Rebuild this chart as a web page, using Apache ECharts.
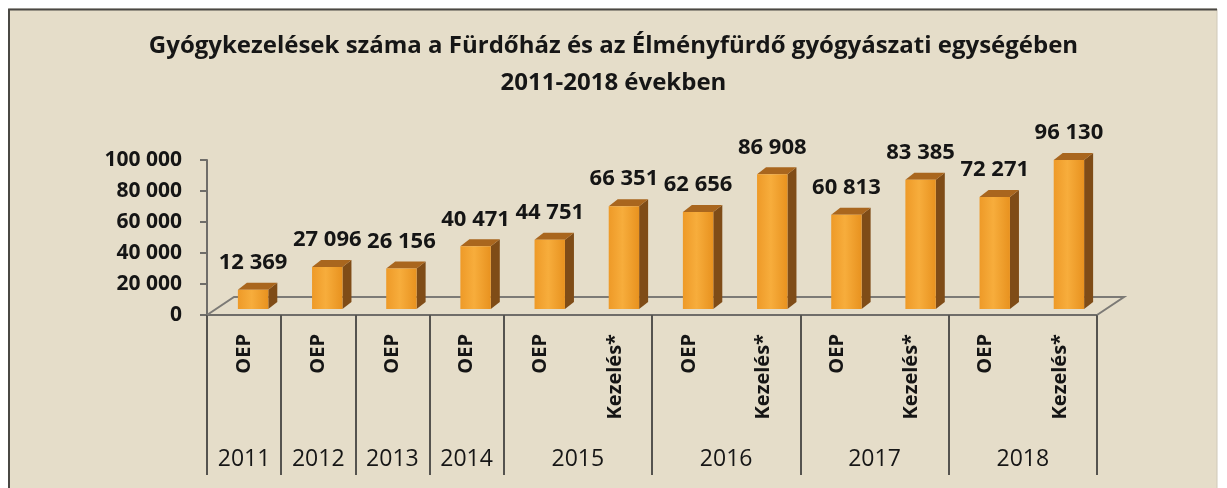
<!DOCTYPE html>
<html>
<head>
<meta charset="utf-8">
<script src="https://cdn.jsdelivr.net/npm/echarts@6/dist/echarts.min.js"></script>
<style>
  html, body { margin: 0; padding: 0; background: #ffffff; }
  #chart { width: 1227px; height: 488px; }
</style>
</head>
<body>
<div id="chart"></div>
<script>
// Treatments per year: OEP (health fund) and other treatments (Kezelés*)
const years = ['2011', '2012', '2013', '2014', '2015', '2016', '2017', '2018'];
const groupSizes = [1, 1, 1, 1, 2, 2, 2, 2];
const categories = ['OEP', 'OEP', 'OEP', 'OEP', 'OEP', 'Kezelés*', 'OEP', 'Kezelés*', 'OEP', 'Kezelés*', 'OEP', 'Kezelés*'];
const values = [12369, 27096, 26156, 40471, 44751, 66351, 62656, 86908, 60813, 83385, 72271, 96130];
const yMin = 0;
const yMax = 100000;
const yStep = 20000;

const titleLines = [
  'Gyógykezelések száma a Fürdőház és az Élményfürdő gyógyászati egységében',
  '2011-2018 években'
];

// group boundaries and centres on the year axis (0 .. number of categories)
const boundaries = [0];
const centres = [];
groupSizes.forEach(function (n) {
  const start = boundaries[boundaries.length - 1];
  centres.push(start + n / 2);
  boundaries.push(start + n);
});

const fmt = function (v) {
  return String(v).replace(/\B(?=(\d{3})+(?!\d))/g, ' ');
};

const FONT = '"Open Sans", "Liberation Sans", sans-serif';
// oblique projection used for the 3D look
const FLOOR_DEPTH = [27, -18];
const BAR_SHIFT = [9, -6];
const BAR_DEPTH = [9, -7];
const BAR_WIDTH = 0.41;

const chart = echarts.init(document.getElementById('chart'), null, { renderer: 'canvas' });

function renderFloor(params, api) {
  const cs = params.coordSys;
  const x0 = cs.x, x1 = cs.x + cs.width, y0 = cs.y + cs.height;
  const dx = FLOOR_DEPTH[0], dy = FLOOR_DEPTH[1];
  return {
    type: 'polyline',
    silent: true,
    shape: { points: [[x0, y0], [x0 + dx, y0 + dy], [x1 + dx, y0 + dy], [x1, y0]] },
    style: { stroke: '#7c7a76', lineWidth: 2, fill: null }
  };
}

function renderBar(params, api) {
  const idx = api.value(0);
  const val = api.value(1);
  const base = api.coord([idx, 0]);
  const top = api.coord([idx, val]);
  const band = api.size([1, 0])[0];
  const w = band * BAR_WIDTH;
  const cx = base[0] + BAR_SHIFT[0];
  const xl = cx - w / 2, xr = cx + w / 2;
  const yb = base[1] + BAR_SHIFT[1];
  const yt = top[1] + BAR_SHIFT[1];
  const ddx = BAR_DEPTH[0], ddy = BAR_DEPTH[1];
  return {
    type: 'group',
    children: [
      {
        type: 'polygon',
        shape: { points: [[xr, yb], [xr + ddx, yb + ddy], [xr + ddx, yt + ddy], [xr, yt]] },
        style: { fill: '#7f4c17' }
      },
      {
        type: 'polygon',
        shape: { points: [[xl, yt], [xr, yt], [xr + ddx, yt + ddy], [xl + ddx, yt + ddy]] },
        style: { fill: '#a9661e' }
      },
      {
        type: 'rect',
        shape: { x: xl, y: yt, width: w, height: yb - yt },
        style: {
          fill: new echarts.graphic.LinearGradient(0, 0, 1, 0, [
            { offset: 0, color: '#ee9a28' },
            { offset: 0.45, color: '#f7ad3c' },
            { offset: 1, color: '#e8921f' }
          ])
        }
      },
      {
        type: 'text',
        x: cx,
        y: yt + ddy - 9,
        style: {
          text: fmt(val),
          font: 'bold 22px ' + FONT,
          fill: '#151515',
          align: 'center',
          verticalAlign: 'bottom'
        }
      }
    ]
  };
}

const titleStyle = {
  fontFamily: FONT,
  fontSize: 24,
  fontWeight: 'bold',
  color: '#161616'
};

const option = {
  animation: false,
  backgroundColor: '#ffffff',
  graphic: [
    {
      type: 'rect',
      silent: true,
      z: -10,
      shape: { x: 9, y: 9, width: 1208, height: 500 },
      style: { fill: '#e5ddc9', stroke: '#cfc8b8', lineWidth: 1 }
    },
    {
      type: 'polyline',
      silent: true,
      z: -9,
      shape: { points: [[9, 500], [9, 9.5], [1217, 9.5]] },
      style: { stroke: '#4a4844', lineWidth: 2, fill: null }
    }
  ],
  title: [
    { text: titleLines[0], left: 'center', top: 34, padding: 0, textStyle: titleStyle },
    { text: titleLines[1], left: 'center', top: 71, padding: 0, textStyle: titleStyle }
  ],
  grid: { left: 207, right: 130, top: 160, bottom: 173, containLabel: false },
  xAxis: [
    {
      type: 'category',
      data: categories,
      position: 'bottom',
      axisLine: { show: true, lineStyle: { color: '#6f6d69', width: 2 } },
      axisTick: { show: false },
      axisLabel: {
        rotate: 90,
        margin: 19,
        fontFamily: FONT,
        fontSize: 20,
        fontWeight: 'bold',
        color: '#151515'
      },
      splitLine: { show: false }
    },
    {
      type: 'value',
      min: 0,
      max: categories.length,
      position: 'bottom',
      axisLine: { show: false },
      axisTick: {
        show: true,
        customValues: boundaries,
        length: 160,
        lineStyle: { color: '#55534f', width: 2 }
      },
      axisLabel: {
        customValues: centres,
        margin: 133,
        fontFamily: FONT,
        fontSize: 23,
        fontWeight: 500,
        color: '#161616',
        formatter: function (v) {
          const i = centres.findIndex(function (c) { return Math.abs(c - v) < 1e-6; });
          return i >= 0 ? years[i] : '';
        }
      },
      splitLine: { show: false }
    }
  ],
  yAxis: {
    type: 'value',
    min: yMin,
    max: yMax,
    interval: yStep,
    axisLine: { show: true, lineStyle: { color: '#6f6d69', width: 2 } },
    axisTick: { show: true, length: 7, lineStyle: { color: '#6f6d69', width: 2 } },
    axisLabel: {
      margin: 25,
      fontFamily: FONT,
      fontSize: 21,
      fontWeight: 'bold',
      color: '#151515',
      formatter: fmt
    },
    splitLine: { show: false }
  },
  series: [
    {
      type: 'custom',
      name: 'floor',
      silent: true,
      clip: false,
      z: 1,
      renderItem: renderFloor,
      data: [[0, 0]]
    },
    {
      type: 'custom',
      name: 'Gyógykezelések',
      silent: true,
      clip: false,
      z: 2,
      renderItem: renderBar,
      encode: { x: 0, y: 1 },
      data: values.map(function (v, i) { return [i, v]; })
    }
  ]
};

chart.setOption(option);
</script>
</body>
</html>
